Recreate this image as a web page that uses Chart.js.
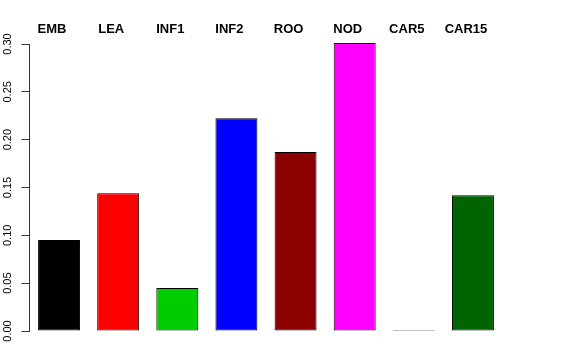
<!DOCTYPE html>
<html>
<head>
<meta charset="utf-8">
<script src="https://cdn.jsdelivr.net/npm/chart.js@4"></script>
<style>
  html, body { margin: 0; padding: 0; background: #fff; }
  #wrap { width: 576px; height: 360px; }
</style>
</head>
<body>
<div id="wrap"><canvas id="chart" width="576" height="360"></canvas></div>
<script>
let tissues = ['EMB', 'LEA', 'INF1', 'INF2', 'ROO', 'NOD', 'CAR5', 'CAR15'];
let values = [0.095, 0.144, 0.045, 0.2225, 0.187, 0.301, 0, 0.142];
let barColors = ['#000000', '#ff0000', '#00cd00', '#0000ff', '#8b0000', '#ff00ff', '#555555', '#006400'];
let yTicks = [0, 0.05, 0.10, 0.15, 0.20, 0.25, 0.30];

// names written above each bar, like text() in R
let topLabels = {
    id: 'topLabels',
    afterDatasetsDraw(chart) {
        let ctx = chart.ctx;
        let bars = chart.getDatasetMeta(0).data;
        ctx.save();
        ctx.font = 'bold 13px "Liberation Sans", Arial, sans-serif';
        ctx.fillStyle = '#000';
        ctx.textAlign = 'center';
        ctx.textBaseline = 'middle';
        for (let i = 0; i < bars.length; i++) {
            ctx.fillText(tissues[i], bars[i].x - 7, 29);
        }
        ctx.restore();
    }
};

let chart = new Chart(document.getElementById('chart').getContext('2d'), {
    type: 'bar',
    data: {
        labels: tissues,
        datasets: [{
            data: values,
            backgroundColor: barColors,
            borderColor: '#000',
            borderWidth: 1,
            borderSkipped: false,
            barPercentage: 0.71,
            categoryPercentage: 1,
            minBarLength: 1,
            clip: false
        }]
    },
    options: {
        responsive: false,
        animation: false,
        devicePixelRatio: 1,
        layout: { padding: { top: 44, right: 73.5, bottom: 29, left: 0 } },
        plugins: { legend: { display: false }, tooltip: { enabled: false } },
        scales: {
            x: { display: false, offset: true },
            y: {
                min: 0,
                max: 0.30,
                afterFit(scale) { scale.width = 29.5; },
                afterBuildTicks(scale) { scale.ticks = yTicks.map(v => ({ value: v })); },
                border: { display: true, color: '#333', width: 1 },
                grid: { drawOnChartArea: false, drawTicks: true, tickLength: 8, color: '#333' },
                ticks: {
                    minRotation: 90,
                    maxRotation: 90,
                    crossAlign: 'center',
                    padding: 3,
                    color: '#000',
                    font: { family: '"Liberation Sans", Arial, sans-serif', size: 11 },
                    callback: v => v.toFixed(2)
                }
            }
        }
    },
    plugins: [topLabels]
});
</script>
</body>
</html>
